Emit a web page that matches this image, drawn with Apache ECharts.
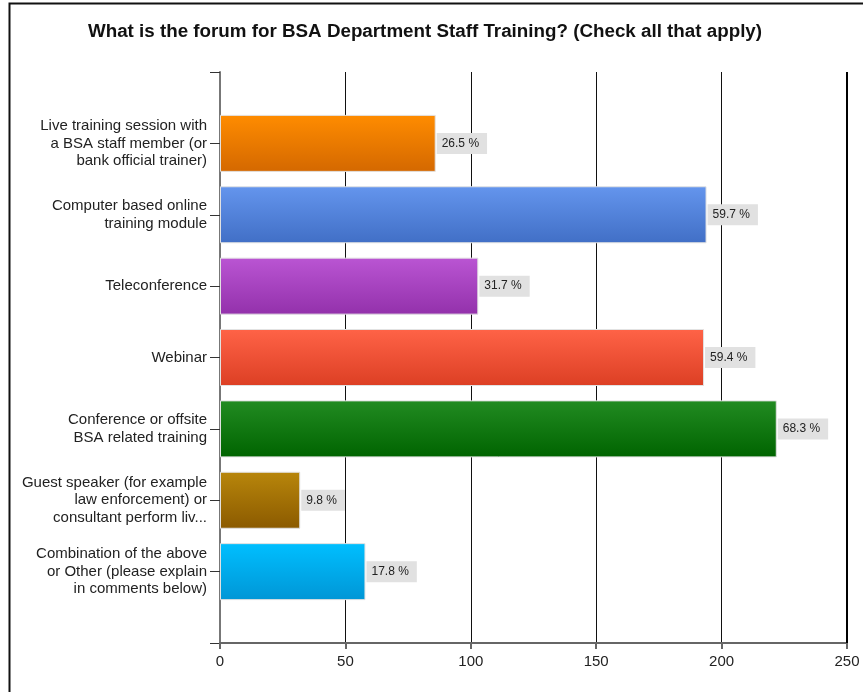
<!DOCTYPE html>
<html><head><meta charset="utf-8">
<script src="https://cdn.jsdelivr.net/npm/echarts@6/dist/echarts.min.js"></script>
<style>html,body{margin:0;padding:0;background:#fff}#c{width:863px;height:692px}</style>
</head><body><div id="c"></div>
<script>
const title = 'What is the forum for BSA Department Staff Training? (Check all that apply)';
const categories = [
  'Live training session with\na BSA staff member (or\nbank official trainer)',
  'Computer based online\ntraining module',
  'Teleconference',
  'Webinar',
  'Conference or offsite\nBSA related training',
  'Guest speaker (for example\nlaw enforcement) or\nconsultant perform liv...',
  'Combination of the above\nor Other (please explain\nin comments below)'
];
const counts = [86, 194, 103, 193, 222, 32, 58];
const percents = ['26.5', '59.7', '31.7', '59.4', '68.3', '9.8', '17.8'];
const xTicks = [0, 50, 100, 150, 200, 250];
const topColors = ['#ff8c00', '#6495ed', '#ba55d3', '#ff6347', '#228b22', '#b8860b', '#00bfff'];
const bottomColors = ['#d46800', '#416fc6', '#9331ab', '#dc3f24', '#006400', '#8b5a00', '#0096d6'];

const chart = echarts.init(document.getElementById('c'), null, {renderer: 'canvas'});
const cats = [''].concat(categories, ['']);
const data = ['-'].concat(counts.map((v, i) => ({
  value: v,
  itemStyle: {
    color: new echarts.graphic.LinearGradient(0, 0, 0, 1, [
      {offset: 0, color: topColors[i]}, {offset: 1, color: bottomColors[i]}
    ])
  },
  label: {formatter: percents[i] + ' %'}
})), ['-']);

chart.setOption({
  animation: false,
  title: {
    text: title, left: 420, top: 17, textAlign: 'center',
    textStyle: {fontFamily: 'Liberation Sans', fontSize: 18.8, fontWeight: 'bold', color: '#111'}
  },
  graphic: [{
    type: 'rect', shape: {x: 9.5, y: 3.5, width: 900, height: 800},
    style: {fill: 'none', stroke: '#111', lineWidth: 2}, silent: true
  }],
  grid: {left: 220, right: 16, top: 72, bottom: 49, containLabel: false},
  xAxis: {
    type: 'value', min: xTicks[0], max: xTicks[xTicks.length - 1], interval: 50,
    axisLine: {show: true, onZero: false, lineStyle: {color: '#666', width: 2}},
    axisTick: {show: true, length: 6, lineStyle: {color: '#666', width: 2}},
    axisLabel: {fontFamily: 'Liberation Sans', fontSize: 15, color: '#222', margin: 11},
    splitLine: {show: true, lineStyle: {color: '#111', width: 1}}
  },
  yAxis: {
    type: 'category', data: cats, inverse: true, boundaryGap: false,
    axisLine: {show: true, lineStyle: {color: '#777', width: 2}},
    axisTick: {show: true, length: 10, lineStyle: {color: '#333', width: 1}},
    axisLabel: {fontFamily: 'Liberation Sans', fontSize: 15, color: '#222', lineHeight: 17.5, margin: 13, align: 'right'},
    splitLine: {show: false}
  },
  series: [{
    type: 'bar', data: data, barWidth: 57,
    itemStyle: {borderColor: '#e2e2e2', borderWidth: 1},
    label: {
      show: true, position: 'right', distance: 1,
      backgroundColor: '#e1e1e1', padding: [4, 8, 3, 5], lineHeight: 14,
      fontFamily: 'Liberation Sans', fontSize: 12, color: '#222'
    },
    markLine: {
      silent: true, symbol: 'none', label: {show: false},
      lineStyle: {color: '#000', width: 2, type: 'solid'},
      data: [{xAxis: xTicks[xTicks.length - 1]}]
    }
  }]
});
</script></body></html>
